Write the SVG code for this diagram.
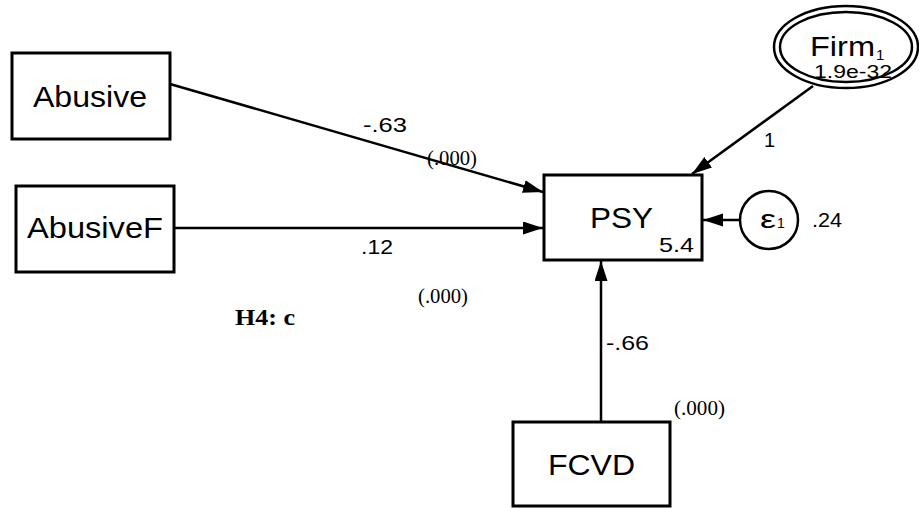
<svg xmlns="http://www.w3.org/2000/svg" width="919" height="508" viewBox="0 0 919 508">
<style>
  .box { fill: #fff; stroke: #000; stroke-width: 3; }
  .ell { fill: #fff; stroke: #000; stroke-width: 2.5; }
  .edge { fill: none; stroke: #000; stroke-width: 2.5; marker-end: url(#arr); }
  .big { font-family: "Liberation Sans", Arial, sans-serif; font-size: 30px; fill: #000; }
  .num { font-family: "Liberation Sans", Arial, sans-serif; font-size: 20px; fill: #000; }
  .p { font-family: "Liberation Serif", "Times New Roman", serif; font-size: 20px; fill: #000; }
  .h { font-family: "Liberation Serif", "Times New Roman", serif; font-size: 23px; font-weight: bold; fill: #000; }
</style>
<defs>
  <marker id="arr" markerUnits="userSpaceOnUse" markerWidth="22" markerHeight="14" refX="20" refY="6.5" orient="auto">
    <path d="M0,0 L20,6.5 L0,13 Z" fill="#000"/>
  </marker>
</defs>
<rect width="919" height="508" fill="#fff"/>
<g id="connectors">
  <line class="edge" x1="170" y1="84" x2="543" y2="192"/>
  <line class="edge" x1="174" y1="228" x2="543" y2="228"/>
  <line class="edge" x1="813" y1="86" x2="692" y2="174"/>
  <line class="edge" x1="740" y1="220" x2="703" y2="220"/>
  <line class="edge" x1="601" y1="422" x2="601" y2="261"/>
</g>
<g id="Abusive">
  <rect class="box" x="12" y="53" width="158" height="86"/>
  <text class="big" x="33" y="107" textLength="114" lengthAdjust="spacingAndGlyphs">Abusive</text>
</g>
<g id="AbusiveF">
  <rect class="box" x="16" y="186" width="158" height="86"/>
  <text class="big" x="27" y="238" textLength="136" lengthAdjust="spacingAndGlyphs">AbusiveF</text>
</g>
<g id="PSY">
  <rect class="box" x="544" y="175" width="158" height="85"/>
  <text class="big" x="590" y="228" textLength="63" lengthAdjust="spacingAndGlyphs">PSY</text>
  <text class="num" x="659" y="252" style="font-size:21px" textLength="35" lengthAdjust="spacingAndGlyphs">5.4</text>
</g>
<g id="FCVD">
  <rect class="box" x="513" y="422" width="157" height="84"/>
  <text class="big" x="548" y="475" textLength="87" lengthAdjust="spacingAndGlyphs">FCVD</text>
</g>
<g id="Firm">
  <ellipse class="ell" cx="846" cy="47" rx="72" ry="41"/>
  <ellipse class="ell" cx="846" cy="47" rx="66" ry="35"/>
  <text class="big" x="810" y="56" style="font-size:27px" textLength="65" lengthAdjust="spacingAndGlyphs">Firm</text>
  <text class="num" x="876" y="60" style="font-size:15px">1</text>
  <text class="num" x="814" y="78" style="font-size:18px" textLength="78" lengthAdjust="spacingAndGlyphs">1.9e-32</text>
</g>
<g id="e1">
  <circle class="ell" cx="769" cy="220" r="29"/>
  <text class="num" x="760" y="228" style="font-size:26px" textLength="16" lengthAdjust="spacingAndGlyphs">ε</text>
  <text class="num" x="777" y="228" style="font-size:14px">1</text>
  <text class="num" x="812" y="227" textLength="30" lengthAdjust="spacingAndGlyphs">.24</text>
</g>
<g id="labels">
  <text class="num" x="363" y="132" textLength="44" lengthAdjust="spacingAndGlyphs">-.63</text>
  <text class="p" x="427" y="165" textLength="50" lengthAdjust="spacingAndGlyphs">(.000)</text>
  <text class="num" x="361" y="254" textLength="32" lengthAdjust="spacingAndGlyphs">.12</text>
  <text class="p" x="418" y="303" textLength="50" lengthAdjust="spacingAndGlyphs">(.000)</text>
  <text class="h" x="235" y="325" textLength="60" lengthAdjust="spacingAndGlyphs">H4: c</text>
  <text class="num" x="764" y="147">1</text>
  <text class="num" x="606" y="350" textLength="43" lengthAdjust="spacingAndGlyphs">-.66</text>
  <text class="p" x="674" y="415" textLength="51" lengthAdjust="spacingAndGlyphs">(.000)</text>
</g>
</svg>
